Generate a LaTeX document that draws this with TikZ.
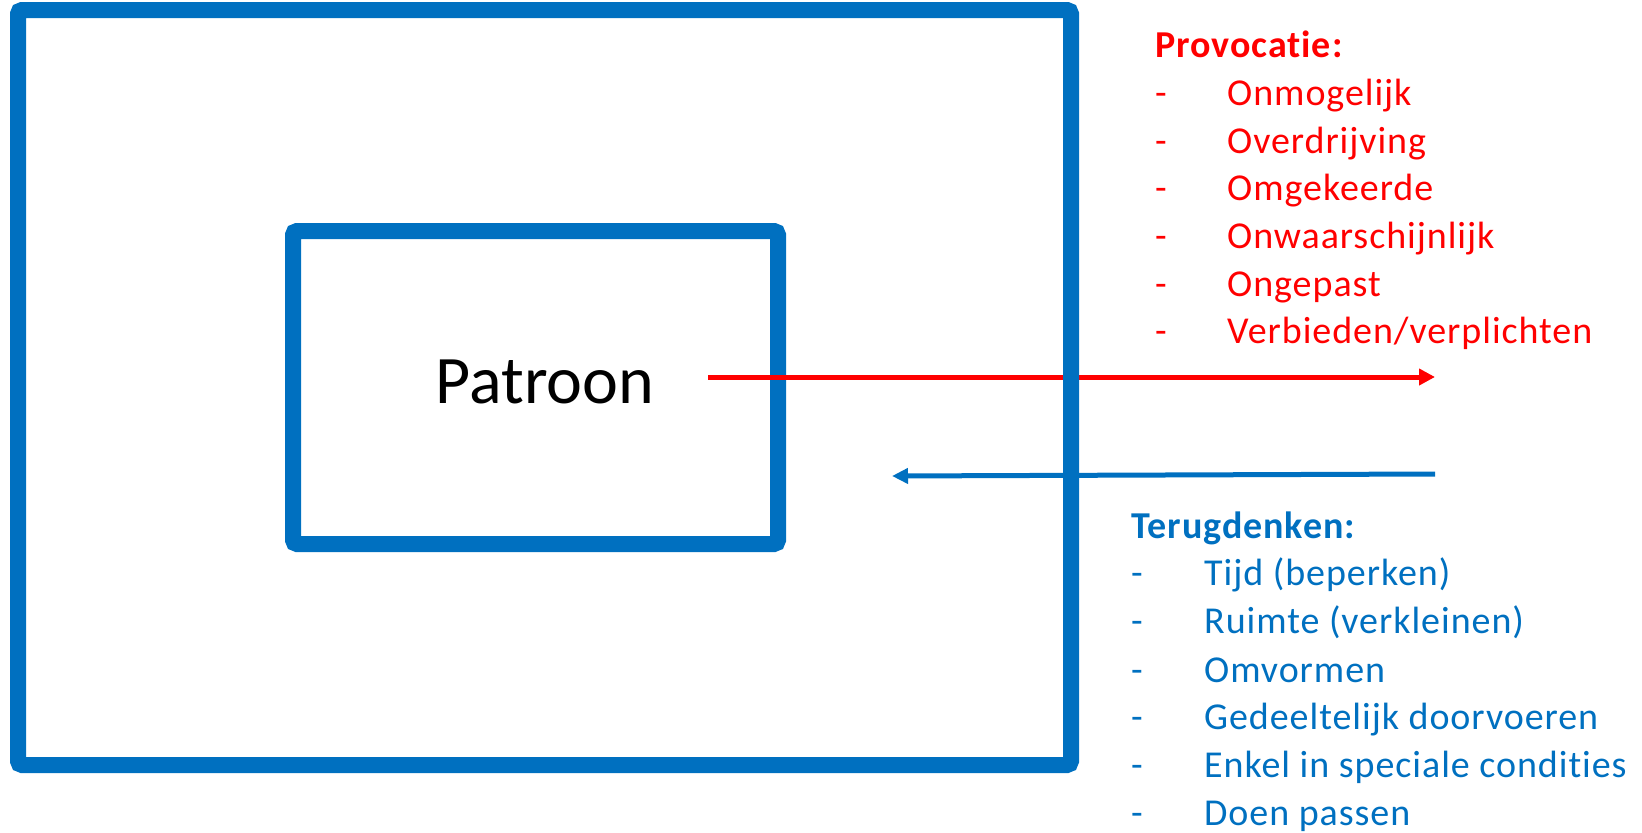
\documentclass[tikz,border=0pt]{standalone}
\usepackage{fontspec}
\setmainfont{Carlito}[Ligatures=NoCommon]
\newfontfamily\listfont{Carlito}[Ligatures=NoCommon,LetterSpace=2.5]
\usetikzlibrary{arrows.meta}
\definecolor{obl}{HTML}{0070C0}
\definecolor{ored}{HTML}{FF0000}
\tikzset{
  frame/.style={draw=obl, line width=16pt, rounded corners=4pt},
  item/.style={anchor=base west, inner sep=0pt, font=\listfont\fontsize{38}{44}\selectfont},
  head/.style={anchor=base west, inner sep=0pt, font=\listfont\fontsize{38}{44}\selectfont\bfseries},
  redarrow/.style={draw=ored, line width=5pt, -{Triangle[length=16pt,width=16pt]}},
  bluearrow/.style={draw=obl, line width=5pt, -{Triangle[length=16pt,width=15pt]}},
}
\newcommand{\dashitem}[2]{\makebox[#1][l]{-}#2}
\begin{document}
\begin{tikzpicture}[x=1pt,y=-1pt]
\useasboundingbox (0,0) rectangle (1642,833);
% inner box
\draw[frame] (293,231) rectangle (778,544);
\node[anchor=base, inner sep=0pt, font=\fontsize{68}{80}\selectfont] (patroon) at (545,403) {Patroon};
% red arrow start/end
\coordinate (rs) at (708,377);
\coordinate (re) at (1435,377);
\draw[redarrow] (rs) -- (re);
% outer box
\draw[frame] (18,10) rectangle (1071,765);
% blue arrow
\coordinate (bs) at (1435,474);
\coordinate (be) at (892,476);
\draw[bluearrow] (bs) -- (be);
% Provocatie list
\begin{scope}[text=ored]
\node[head] (ph) at (1155,57) {Provocatie:};
\node[item] (p1) at (1155,105) {\dashitem{72pt}{Onmogelijk}};
\node[item] (p2) at (1155,153) {\dashitem{72pt}{Overdrijving}};
\node[item] (p3) at (1155,200) {\dashitem{72pt}{Omgekeerde}};
\node[item] (p4) at (1155,248) {\dashitem{72pt}{Onwaarschijnlijk}};
\node[item] (p5) at (1155,296) {\dashitem{72pt}{Ongepast}};
\node[item] (p6) at (1155,343) {\dashitem{72pt}{Verbieden/verplichten}};
\end{scope}
% Terugdenken list
\begin{scope}[text=obl]
\node[head] (th) at (1131,538) {Terugdenken:};
\node[item] (t1) at (1131,585) {\dashitem{73pt}{Tijd (beperken)}};
\node[item] (t2) at (1131,633) {\dashitem{73pt}{Ruimte (verkleinen)}};
\node[item] (t3) at (1131,682) {\dashitem{73pt}{Omvormen}};
\node[item] (t4) at (1131,729) {\dashitem{73pt}{Gedeeltelijk doorvoeren}};
\node[item] (t5) at (1131,777) {\dashitem{73pt}{Enkel in speciale condities}};
\node[item] (t6) at (1131,825) {\dashitem{73pt}{Doen passen}};
\end{scope}
\end{tikzpicture}
\end{document}
